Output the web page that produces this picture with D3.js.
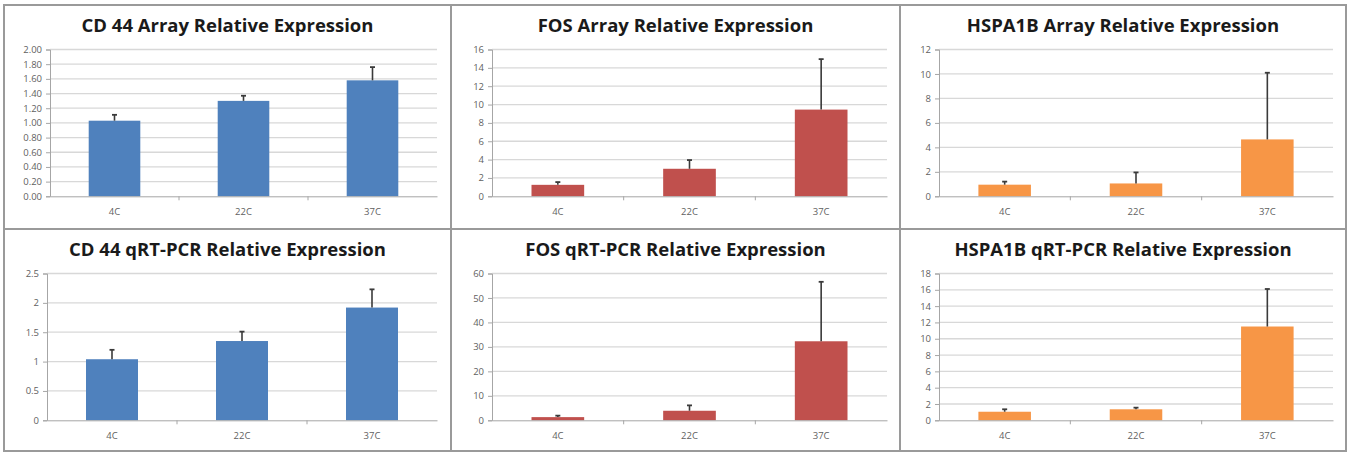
<!DOCTYPE html>
<html>
<head>
<meta charset="utf-8">
<script src="https://cdn.jsdelivr.net/npm/d3@7"></script>
<style>
  body { margin: 0; background: #fff; }
  .title { font-family: "Open Sans", Lato, sans-serif; font-weight: bold; font-size: 18.5px; fill: #1a1a1a; }
  .tick text { font-family: "Open Sans", "Liberation Sans", sans-serif; font-size: 9.5px; fill: #5f5f5f; }
</style>
</head>
<body>
<div id="chart"></div>
<script>
var svgWidth = 1353;
var svgHeight = 453;

// categories shared by every panel
var categories = ["4C", "22C", "37C"];

// panel titles
var titles = [
  "CD 44 Array Relative Expression",
  "FOS Array Relative Expression",
  "HSPA1B Array Relative Expression",
  "CD 44 qRT-PCR Relative Expression",
  "FOS qRT-PCR Relative Expression",
  "HSPA1B qRT-PCR Relative Expression"
];

// mean values
var cd44Array = [1.03, 1.30, 1.58];
var fosArray = [1.25, 3.0, 9.45];
var hspa1bArray = [0.95, 1.05, 4.65];
var cd44Pcr = [1.04, 1.35, 1.92];
var fosPcr = [1.3, 3.9, 32.3];
var hspa1bPcr = [1.05, 1.35, 11.5];

// upper error bar lengths
var cd44ArrayErr = [0.08, 0.07, 0.18];
var fosArrayErr = [0.3, 0.95, 5.5];
var hspa1bArrayErr = [0.25, 0.9, 5.45];
var cd44PcrErr = [0.16, 0.16, 0.31];
var fosPcrErr = [0.6, 2.2, 24.3];
var hspa1bPcrErr = [0.3, 0.2, 4.6];

// y axis tick labels
var cd44ArrayTicks = [0, 0.2, 0.4, 0.6, 0.8, 1.0, 1.2, 1.4, 1.6, 1.8, 2.0];
var fosArrayTicks = [0, 2, 4, 6, 8, 10, 12, 14, 16];
var hspa1bArrayTicks = [0, 2, 4, 6, 8, 10, 12];
var cd44PcrTicks = [0, 0.5, 1, 1.5, 2, 2.5];
var fosPcrTicks = [0, 10, 20, 30, 40, 50, 60];
var hspa1bPcrTicks = [0, 2, 4, 6, 8, 10, 12, 14, 16, 18];

var colors = { blue: "#4f81bd", red: "#c0504d", orange: "#f79646" };

var panels = [
  { title: titles[0], values: cd44Array, errs: cd44ArrayErr, ticks: cd44ArrayTicks, fmt: d3.format(".2f"), color: colors.blue, box: [4, 5, 451, 229], plot: [50, 437] },
  { title: titles[1], values: fosArray, errs: fosArrayErr, ticks: fosArrayTicks, fmt: d3.format("d"), color: colors.red, box: [451, 5, 900, 229], plot: [492, 887] },
  { title: titles[2], values: hspa1bArray, errs: hspa1bArrayErr, ticks: hspa1bArrayTicks, fmt: d3.format("d"), color: colors.orange, box: [900, 5, 1346, 229], plot: [939, 1333] },
  { title: titles[3], values: cd44Pcr, errs: cd44PcrErr, ticks: cd44PcrTicks, fmt: d3.format(""), color: colors.blue, box: [4, 229, 451, 451], plot: [47, 437] },
  { title: titles[4], values: fosPcr, errs: fosPcrErr, ticks: fosPcrTicks, fmt: d3.format("d"), color: colors.red, box: [451, 229, 900, 451], plot: [492, 887] },
  { title: titles[5], values: hspa1bPcr, errs: hspa1bPcrErr, ticks: hspa1bPcrTicks, fmt: d3.format("d"), color: colors.orange, box: [900, 229, 1346, 451], plot: [939, 1333] }
];

var svg = d3.select("#chart")
  .append("svg")
  .attr("width", svgWidth)
  .attr("height", svgHeight);

panels.forEach(function(p) {
  var top = p.box[1];
  var yTop = top + 44.5;
  var yBottom = top + 191.3;

  var g = svg.append("g");

  // panel frame
  g.append("rect")
    .attr("x", p.box[0])
    .attr("y", p.box[1])
    .attr("width", p.box[2] - p.box[0])
    .attr("height", p.box[3] - p.box[1])
    .attr("fill", "#fff")
    .attr("stroke", "#9a9a9a")
    .attr("stroke-width", 2);

  g.append("text")
    .attr("class", "title")
    .attr("x", (p.box[0] + p.box[2]) / 2)
    .attr("y", top + 27)
    .attr("text-anchor", "middle")
    .text(p.title);

  var xScale = d3.scaleBand()
    .domain(categories)
    .range(p.plot)
    .paddingInner(0.6)
    .paddingOuter(0.3);

  var yScale = d3.scaleLinear()
    .domain([0, d3.max(p.ticks)])
    .range([yBottom, yTop]);

  // gridlines
  g.selectAll(".grid")
    .data(p.ticks.slice(1))
    .enter()
    .append("line")
    .attr("x1", p.plot[0])
    .attr("x2", p.plot[1])
    .attr("y1", d => yScale(d))
    .attr("y2", d => yScale(d))
    .attr("stroke", "#d8d8d8")
    .attr("stroke-width", 1.3);

  var leftAxis = d3.axisLeft(yScale)
    .tickValues(p.ticks)
    .tickFormat(p.fmt)
    .tickSize(4)
    .tickPadding(4);

  var yAxis = g.append("g")
    .attr("transform", `translate(${p.plot[0]}, 0)`)
    .call(leftAxis);
  yAxis.select(".domain").attr("stroke", "#a6a6a6");
  yAxis.selectAll(".tick line").attr("stroke", "#a6a6a6");

  // bars
  g.selectAll(".bar")
    .data(p.values)
    .enter()
    .append("rect")
    .attr("x", (d, i) => xScale(categories[i]))
    .attr("y", d => yScale(d))
    .attr("width", xScale.bandwidth())
    .attr("height", d => yScale(0) - yScale(d))
    .attr("fill", p.color);

  // x axis with ticks between categories
  var bottomAxis = d3.axisBottom(xScale)
    .tickSize(0)
    .tickPadding(12);

  var xAxis = g.append("g")
    .attr("transform", `translate(0, ${yBottom})`)
    .call(bottomAxis);
  xAxis.select(".domain").attr("stroke", "#a6a6a6");

  var step = xScale.step();
  xAxis.selectAll(".sep")
    .data(categories.slice(1))
    .enter()
    .append("line")
    .attr("x1", d => xScale(d) - (step - xScale.bandwidth()) / 2)
    .attr("x2", d => xScale(d) - (step - xScale.bandwidth()) / 2)
    .attr("y1", 0)
    .attr("y2", 4)
    .attr("stroke", "#a6a6a6");

  // error bars (upper only)
  var eb = g.selectAll(".err")
    .data(p.values.map((v, i) => ({ cat: categories[i], v: v, e: p.errs[i] })))
    .enter()
    .append("g");

  eb.append("line")
    .attr("x1", d => xScale(d.cat) + xScale.bandwidth() / 2)
    .attr("x2", d => xScale(d.cat) + xScale.bandwidth() / 2)
    .attr("y1", d => yScale(d.v))
    .attr("y2", d => yScale(d.v + d.e))
    .attr("stroke", "#3a3a3a")
    .attr("stroke-width", 1.6);

  eb.append("line")
    .attr("x1", d => xScale(d.cat) + xScale.bandwidth() / 2 - 2.5)
    .attr("x2", d => xScale(d.cat) + xScale.bandwidth() / 2 + 2.5)
    .attr("y1", d => yScale(d.v + d.e))
    .attr("y2", d => yScale(d.v + d.e))
    .attr("stroke", "#3a3a3a")
    .attr("stroke-width", 1.8);
});
</script>
</body>
</html>
